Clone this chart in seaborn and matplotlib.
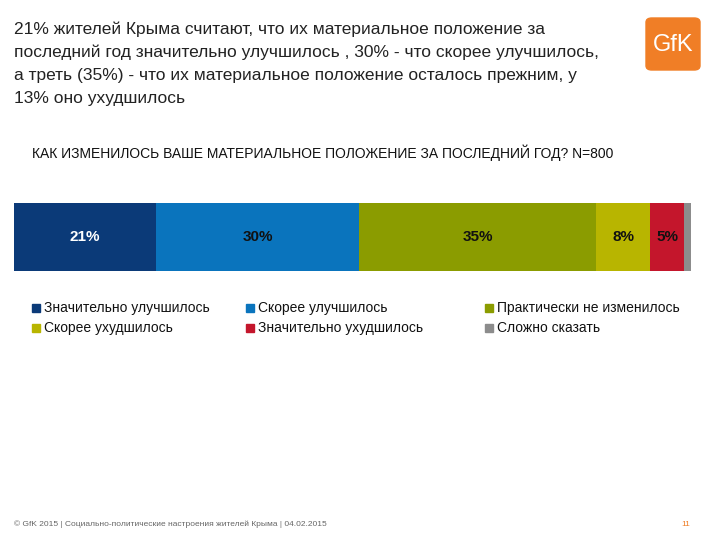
import matplotlib
matplotlib.use("Agg")
import matplotlib.pyplot as plt
import seaborn as sns
import pandas as pd
import numpy as np
from matplotlib.patches import FancyBboxPatch, Rectangle

sns.set_theme(style="white")
plt.rcParams['font.family'] = ['Liberation Sans', 'DejaVu Sans']

categories = ["Значительно улучшилось", "Скорее улучшилось", "Практически не изменилось",
              "Скорее ухудшилось", "Значительно ухудшилось", "Сложно сказать"]
values = [21, 30, 35, 8, 5, 1]
labels = ["21%", "30%", "35%", "8%", "5%", ""]
label_colors = ["white", "#111111", "#111111", "#111111", "#111111", "#111111"]
colors = ["#0b3a78", "#0a74bd", "#8b9c00", "#b8b500", "#c4162c", "#8c8c8c"]

W, H = 718, 539
fig = plt.figure(figsize=(W / 100, H / 100), dpi=100)

# stacked bar: draw cumulative totals from largest to smallest
cum = np.cumsum(values)
ax = fig.add_axes([14 / W, 1 - 271 / H, 677 / W, 68 / H])
for i in reversed(range(len(values))):
    df = pd.DataFrame({"q": ["q"], "v": [cum[i]]})
    sns.barplot(data=df, x="v", y="q", color=colors[i], ax=ax, width=1.0,
                saturation=1, linewidth=0, orient="h")
ax.set_xlim(0, cum[-1])
ax.set_ylim(0.5, -0.5)
ax.axis("off")
starts = cum - np.array(values)
for s, v, lab, lc in zip(starts, values, labels, label_colors):
    if lab:
        ax.text(s + v / 2, 0, lab, ha="center", va="center", fontsize=11,
                fontweight="bold", color=lc)

# title text, one line at a time
title_lines = ["21% жителей Крыма считают, что их материальное положение за",
               "последний год значительно улучшилось , 30% - что скорее улучшилось,",
               "а треть (35%) - что их материальное положение осталось прежним, у",
               "13% оно ухудшилось"]
for k, line in enumerate(title_lines):
    fig.text(14 / W, 1 - (29 + 23.3 * k) / H, line, ha="left", va="center",
             fontsize=12.5, color="#222222")
fig.text(32 / W, 1 - 153 / H,
         "КАК ИЗМЕНИЛОСЬ ВАШЕ МАТЕРИАЛЬНОЕ ПОЛОЖЕНИЕ ЗА ПОСЛЕДНИЙ ГОД? N=800",
         ha="left", va="center", fontsize=10, color="#111111")

# legend
cols_x = [32, 246, 485]
rows_y = [308, 328]
for i, (cat, col) in enumerate(zip(categories, colors)):
    x = cols_x[i % 3]
    y = rows_y[i // 3]
    fig.patches.append(Rectangle((x / W, 1 - (y + 4) / H), 8 / W, 8 / H,
                                 transform=fig.transFigure, color=col))
    fig.text((x + 12) / W, 1 - y / H, cat, ha="left", va="center", fontsize=10,
             color="#111111")

# logo
fig.patches.append(FancyBboxPatch((646 / W, 1 - 70 / H), 54 / W, 52 / H,
                                  boxstyle="round,pad=0,rounding_size=0.008",
                                  transform=fig.transFigure, color="#f07e26"))
fig.text(673 / W, 1 - 45 / H, "GfK", ha="center", va="center", fontsize=17,
         color="white")

# footer
fig.text(14 / W, 1 - 524 / H,
         "© GfK 2015 | Социально-политические настроения жителей Крыма | 04.02.2015",
         ha="left", va="center", fontsize=6, color="#666666")
fig.text(690 / W, 1 - 524 / H, "11", ha="right", va="center", fontsize=6,
         color="#f07e26")

fig.savefig("out.png", dpi=100)
